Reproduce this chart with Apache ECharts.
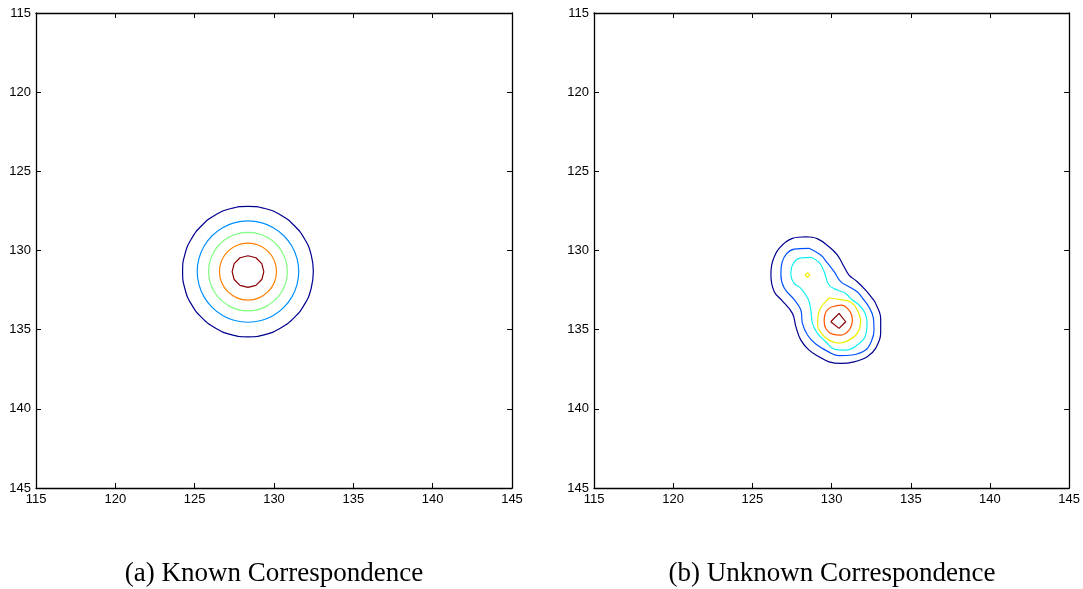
<!DOCTYPE html>
<html lang="en">
<head>
    <meta charset="UTF-8">
    <title>Known / Unknown Correspondence</title>
    <script src="https://cdn.jsdelivr.net/npm/echarts@6/dist/echarts.min.js"></script>
</head>
<body style="margin: 0; background: #fff">
<div id="main" style="width: 1083px; height: 589px"></div>
<script>
    // axis ticks (same on both panels)
    const tickMin = 115;
    const tickMax = 145;
    const tickStep = 5;
    const captions = ['(a) Known Correspondence', '(b) Unknown Correspondence'];

    // (a) known correspondence: concentric contours, outer to inner
    const aNavy = [[132.48, 131.33], [132.34, 132.40], [131.93, 133.39], [131.27, 134.24], [130.42, 134.90], [129.43, 135.31], [128.36, 135.45], [127.29, 135.31], [126.30, 134.90], [125.45, 134.24], [124.79, 133.39], [124.38, 132.40], [124.24, 131.33], [124.38, 130.26], [124.79, 129.27], [125.45, 128.42], [126.30, 127.76], [127.29, 127.35], [128.36, 127.21], [129.43, 127.35], [130.42, 127.76], [131.27, 128.42], [131.93, 129.27], [132.34, 130.26], [132.48, 131.33]];
    const aBlue = [[131.56, 131.33], [131.45, 132.16], [131.13, 132.93], [130.62, 133.59], [129.96, 134.10], [129.19, 134.42], [128.36, 134.53], [127.53, 134.42], [126.76, 134.10], [126.10, 133.59], [125.59, 132.93], [125.27, 132.16], [125.16, 131.33], [125.27, 130.50], [125.59, 129.73], [126.10, 129.07], [126.76, 128.56], [127.53, 128.24], [128.36, 128.13], [129.19, 128.24], [129.96, 128.56], [130.62, 129.07], [131.13, 129.73], [131.45, 130.50], [131.56, 131.33]];
    const aGreen = [[130.84, 131.33], [130.76, 131.97], [130.51, 132.57], [130.11, 133.08], [129.60, 133.48], [129.00, 133.73], [128.36, 133.81], [127.72, 133.73], [127.12, 133.48], [126.61, 133.08], [126.21, 132.57], [125.96, 131.97], [125.88, 131.33], [125.96, 130.69], [126.21, 130.09], [126.61, 129.58], [127.12, 129.18], [127.72, 128.93], [128.36, 128.85], [129.00, 128.93], [129.60, 129.18], [130.11, 129.58], [130.51, 130.09], [130.76, 130.69], [130.84, 131.33]];
    const aOrange = [[130.16, 131.33], [130.02, 132.02], [129.63, 132.60], [129.05, 132.99], [128.36, 133.13], [127.67, 132.99], [127.09, 132.60], [126.70, 132.02], [126.56, 131.33], [126.70, 130.64], [127.09, 130.06], [127.67, 129.67], [128.36, 129.53], [129.05, 129.67], [129.63, 130.06], [130.02, 130.64], [130.16, 131.33]];
    const aRed = [[129.36, 131.33], [129.23, 131.83], [128.86, 132.20], [128.36, 132.33], [127.86, 132.20], [127.49, 131.83], [127.36, 131.33], [127.49, 130.83], [127.86, 130.46], [128.36, 130.33], [128.86, 130.46], [129.23, 130.83], [129.36, 131.33]];

    // (b) unknown correspondence: two-peaked contours
    const bNavy = [[128.38, 129.13], [129.09, 129.25], [129.84, 129.76], [130.37, 130.29], [130.79, 131.03], [131.10, 131.55], [131.62, 131.97], [132.15, 132.50], [132.57, 133.02], [132.78, 133.34], [133.10, 134.29], [133.10, 135.23], [132.78, 136.18], [132.25, 136.71], [131.42, 137.03], [130.58, 137.13], [129.84, 137.03], [129.21, 136.71], [128.58, 136.29], [128.06, 135.66], [127.75, 134.82], [127.53, 133.97], [126.85, 133.13], [126.38, 132.61], [126.17, 131.55], [126.27, 130.71], [126.69, 129.86], [127.53, 129.23], [128.38, 129.13]];
    const bBlue = [[128.58, 129.86], [129.32, 130.29], [129.69, 130.73], [130.16, 131.34], [130.58, 131.97], [131.10, 132.29], [131.62, 132.61], [131.98, 133.04], [132.36, 133.57], [132.64, 134.27], [132.68, 135.03], [132.52, 135.72], [132.15, 136.29], [131.31, 136.60], [130.47, 136.64], [129.84, 136.42], [129.00, 135.91], [128.48, 135.34], [128.16, 134.60], [128.06, 133.76], [127.64, 133.10], [127.01, 132.37], [126.80, 131.55], [126.88, 130.73], [127.64, 129.91], [128.58, 129.86]];
    const bCyan = [[128.69, 130.43], [129.21, 130.75], [129.53, 131.34], [129.84, 132.18], [130.37, 132.50], [130.89, 132.71], [131.31, 133.13], [131.67, 133.38], [132.08, 133.89], [132.24, 134.58], [132.11, 135.45], [131.62, 135.97], [130.89, 136.29], [130.16, 136.23], [129.63, 135.76], [129.11, 135.23], [128.79, 134.60], [128.69, 133.76], [128.52, 133.07], [128.06, 132.39], [127.64, 132.08], [127.43, 131.55], [127.53, 130.92], [128.06, 130.46], [128.69, 130.43]];
    const bYellow = [[129.84, 133.00], [130.58, 133.10], [131.21, 133.26], [131.62, 133.76], [131.84, 134.50], [131.62, 135.23], [131.10, 135.66], [130.47, 135.85], [129.84, 135.66], [129.40, 135.28], [129.12, 134.71], [129.15, 134.08], [129.34, 133.57], [129.63, 133.23], [129.84, 133.00]];
    const bYellowDot = [[128.48, 131.40], [128.63, 131.55], [128.48, 131.70], [128.33, 131.55], [128.48, 131.40]];
    const bOrange = [[130.05, 133.55], [130.58, 133.45], [131.10, 133.76], [131.31, 134.39], [131.10, 135.03], [130.58, 135.34], [130.05, 135.28], [129.65, 134.96], [129.53, 134.46], [129.59, 134.01], [129.78, 133.70], [130.05, 133.55]];
    const bRed = [[129.95, 134.50], [130.47, 133.97], [130.89, 134.50], [130.47, 134.92], [129.95, 134.50]];

    const chart = echarts.init(document.getElementById('main'));

    const gridLeft = [36, 594];
    const gridW = 476;

    function xAxes(gi) {
        const base = {
            type: 'value', gridIndex: gi, min: tickMin, max: tickMax, interval: tickStep,
            axisLine: {show: true, lineStyle: {color: '#000', width: 1.3}},
            axisTick: {show: true, inside: true, length: 5, lineStyle: {color: '#000', width: 1}},
            splitLine: {show: false}
        };
        return [
            Object.assign({}, base, {
                position: 'bottom',
                axisLabel: {color: '#000', fontSize: 13, fontFamily: 'Liberation Sans', margin: 5, showMinLabel: true, showMaxLabel: true}
            }),
            Object.assign({}, base, {position: 'top', axisLabel: {show: false}})
        ];
    }

    function yAxes(gi) {
        const base = {
            type: 'value', gridIndex: gi, min: tickMin, max: tickMax, interval: tickStep, inverse: true,
            axisLine: {show: true, lineStyle: {color: '#000', width: 1.3}},
            axisTick: {show: true, inside: true, length: 5, lineStyle: {color: '#000', width: 1}},
            splitLine: {show: false}
        };
        return [
            Object.assign({}, base, {
                position: 'left',
                axisLabel: {color: '#000', fontSize: 13, fontFamily: 'Liberation Sans', margin: 5, showMinLabel: true, showMaxLabel: true}
            }),
            Object.assign({}, base, {position: 'right', axisLabel: {show: false}})
        ];
    }

    function contour(data, color, axis, smooth) {
        return {
            type: 'line', data: data, xAxisIndex: axis, yAxisIndex: axis,
            symbol: 'none', smooth: smooth, silent: true,
            lineStyle: {color: color, width: 1.2}
        };
    }

    let option = {
        animation: false,
        title: captions.map(function (t, i) {
            return {
                text: t,
                left: gridLeft[i] + gridW / 2,
                top: 560,
                padding: 0,
                textAlign: 'center',
                textStyle: {fontFamily: 'Liberation Serif', fontSize: 27, fontWeight: 'normal', color: '#000'}
            };
        }),
        grid: gridLeft.map(function (l) {
            return {left: l, top: 13, width: gridW, height: 475};
        }),
        xAxis: xAxes(0).concat(xAxes(1)),
        yAxis: yAxes(0).concat(yAxes(1)),
        series: [
            contour(aNavy, '#00008f', 0, 0.5),
            contour(aBlue, '#0090ff', 0, 0.5),
            contour(aGreen, '#80ff80', 0, 0.5),
            contour(aOrange, '#ff8000', 0, 0.5),
            contour(aRed, '#880000', 0, false),
            contour(bNavy, '#00008f', 2, 0.4),
            contour(bBlue, '#0050ff', 2, 0.4),
            contour(bCyan, '#10f0f0', 2, 0.4),
            contour(bYellow, '#eeee00', 2, 0.4),
            contour(bYellowDot, '#eeee00', 2, false),
            contour(bOrange, '#ff5500', 2, 0.4),
            contour(bRed, '#880000', 2, false)
        ]
    };
    chart.setOption(option);
</script>
</body>
</html>
